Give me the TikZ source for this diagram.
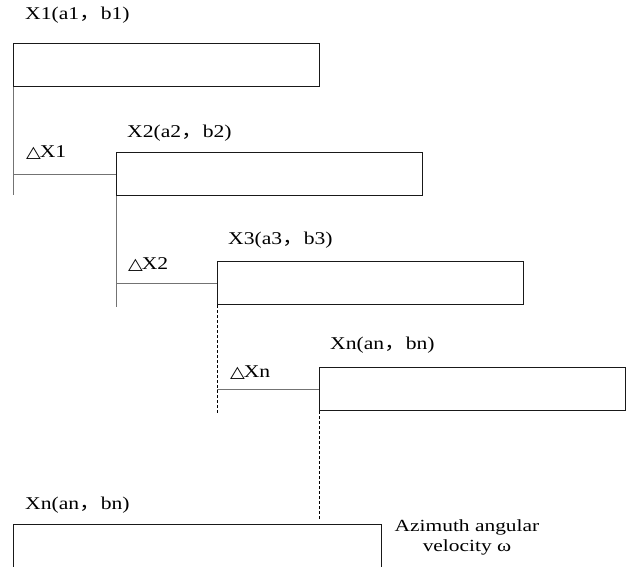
\documentclass[tikz,border=0pt]{standalone}
\usepackage{fontspec}
\setmainfont{Liberation Serif}
\newfontfamily\cjk{Noto Sans CJK SC}
\newfontfamily\symf{DejaVu Sans}
\usetikzlibrary{calc}
\usetikzlibrary{positioning}

\newcommand{\fwc}{{\cjk ，}}
\newcommand{\tri}{{\symf\fontsize{16}{16}\selectfont △}\kern-1pt}

\tikzset{
 blk/.style={draw=black!90, line width=1pt, minimum width=306pt, minimum height=43pt, anchor=north west, inner sep=0},
 lbl/.style={anchor=west, inner sep=0, font=\fontsize{18}{20}\selectfont, xscale=1.2},
 link/.style={draw=black!55, line width=1pt},
 dlink/.style={draw=black, line width=0.8pt, dash pattern=on 3pt off 2pt},
}

\begin{document}
\begin{tikzpicture}[x=1pt,y=-1pt]
\useasboundingbox (0,0) rectangle (629,567);
% the stepped blocks
\node[blk] (b1) at (13,43) {};
\node[blk] (b2) at (116,152) {};
\node[blk] (b3) at (217,261) {};
\node[blk] (bn) at (319,367) {};
\node[blk, minimum width=368pt, minimum height=44pt] (bz) at (13,524) {};

% offsets between blocks
\coordinate (e1) at (13,195);
\coordinate (e2) at (116,307);
\coordinate (e3) at (217,414);
\coordinate (e4) at (319,520);
\draw[link] (b1.south west) -- (e1);
\draw[link] (b1.south west |- b2.west) -- (b2.west);
\draw[link] (b2.south west) -- (e2);
\draw[link] (b2.south west |- b3.west) -- (b3.west);
\draw[dlink] (b3.south west) -- (e3);
\draw[link] (b3.south west |- bn.west) -- (bn.west);
\draw[dlink] (bn.south west) -- (e4);

% labels
\node[lbl] (t1) at (25,15) {X1(a1\fwc b1)};
\node[lbl] (t2) at (127,133) {X2(a2\fwc b2)};
\node[lbl] (t3) at (228,240) {X3(a3\fwc b3)};
\node[lbl] (tn) at (330,345) {Xn(an\fwc bn)};
\node[lbl] (tz) at (25,505) {Xn(an\fwc bn)};
\node[lbl] (d1) at (26,153) {\tri X1};
\node[lbl] (d2) at (128,265) {\tri X2};
\node[lbl] (dn) at (230,373) {\tri Xn};
\node[lbl, anchor=center, align=center, font=\fontsize{17}{20}\selectfont, xscale=1.05] (az) at (467,537) {Azimuth angular\\velocity ω};
\end{tikzpicture}
\end{document}
